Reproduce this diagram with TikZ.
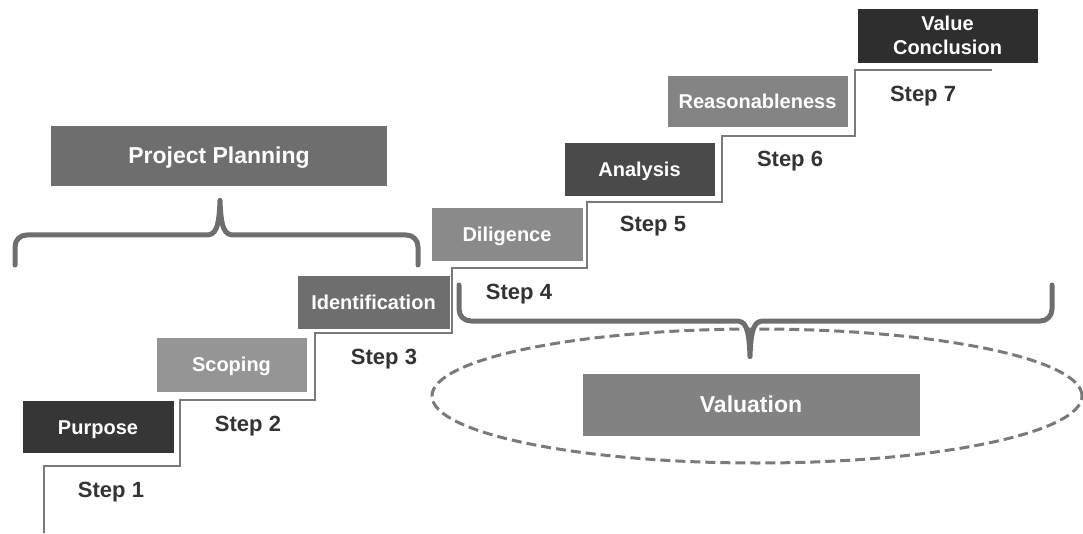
\documentclass[tikz,border=0pt]{standalone}
\usepackage{fontspec}
\setmainfont{Liberation Sans}
\usepackage{xcolor}
\usepackage{tikz}
\usetikzlibrary{calc}
\usetikzlibrary{shapes}

\definecolor{stairgray}{HTML}{7A7A7A}
\definecolor{bracegray}{HTML}{6E6E6E}
\definecolor{labelgray}{HTML}{333333}
\definecolor{darkbox}{HTML}{363636}
\definecolor{midbox}{HTML}{6E6E6E}
\definecolor{lightbox}{HTML}{959595}

\tikzset{
 boxbase/.style = {rectangle, draw=white, line width=0.8pt, text=white, inner sep=0pt,
   font=\bfseries\fontsize{20}{24}\selectfont, align=center},
 stepbox/.style = {boxbase, text height=14.4pt, text depth=0pt},
 phasebox/.style = {boxbase, fill=midbox, font=\bfseries\fontsize{23}{27}\selectfont,
   text height=16.5pt, text depth=0pt},
 steplabel/.style = {anchor=base, text=labelgray, font=\bfseries\fontsize{22}{26}\selectfont},
 bracket/.style = {draw=bracegray, line width=5pt, line cap=round, line join=round},
}

\begin{document}
\begin{tikzpicture}[x=1pt, y=-1pt]
 \useasboundingbox (0,0) rectangle (1083,534);

 % staircase
 \draw [stairgray, line width=2.5pt] (44,533) -- (44,466) -- (180,466) -- (180,400)
   -- (315,400) -- (315,333) -- (452,333) -- (452,268) -- (587,268) -- (587,202)
   -- (722,202) -- (722,136) -- (855,136) -- (855,70) -- (992,70);

 % steps
 \node [stepbox, fill=darkbox, minimum width=152pt, minimum height=53pt] (Pu) at (98,427) {Purpose};
 \node [stepbox, fill=lightbox, minimum width=151pt, minimum height=55pt] (Sc) at (231.5,364.5) {Scoping};
 \node [stepbox, fill=midbox, minimum width=153pt, minimum height=54pt] (Id) at (373.5,302) {Identification};
 \node [stepbox, fill=lightbox!110, minimum width=152pt, minimum height=54pt] (Di) at (507,234) {Diligence};
 \node [stepbox, fill=darkbox!90, minimum width=151pt, minimum height=54pt] (An) at (639.5,169) {Analysis};
 \node [stepbox, fill=midbox!85, minimum width=181pt, minimum height=52pt] (Re) at (757.5,101) {Reasonableness};
 \node [boxbase, fill=darkbox!85!black, minimum width=181pt, minimum height=55pt] (VC) at (947.5,35.5) {Value\\Conclusion};

 \node [steplabel] (S1) at (111,497) {Step 1};
 \node [steplabel] (S2) at (248,431) {Step 2};
 \node [steplabel] (S3) at (384,364) {Step 3};
 \node [steplabel] (S4) at (519,300) {Step 4};
 \node [steplabel] (S5) at (653,232) {Step 5};
 \node [steplabel] (S6) at (790,167) {Step 6};
 \node [steplabel] (S7) at (923,102) {Step 7};

 % phases
 \node [phasebox, minimum width=337pt, minimum height=61pt] (PP) at (219,155.5) {Project Planning};
 \draw [stairgray, line width=3pt, dash pattern=on 10pt off 5pt] (757,396) ellipse [x radius=325pt, y radius=67pt];
 \node [phasebox, fill=gray!98, minimum width=338pt, minimum height=63pt] (Va) at (751,404.5) {Valuation};

 \coordinate (tipPP) at ($(PP.south)+(1,14)$);
 \coordinate (tipVa) at ($(Va.north)+(-1,-16)$);
 \draw [bracket] (15,265) -- (15,247) .. controls (15,240) and (20,235) .. (27,235)
   -- (206,235) .. controls (215,235) and (219,230) .. (tipPP)
   .. controls (221,230) and (225,235) .. (234,235)
   -- (406,235) .. controls (413,235) and (418,240) .. (418,247) -- (418,265);
 \draw [bracket] (459,285) -- (459,309) .. controls (459,316) and (464,321) .. (471,321)
   -- (736,321) .. controls (745,321) and (749,326) .. (tipVa)
   .. controls (751,326) and (755,321) .. (764,321)
   -- (1040,321) .. controls (1047,321) and (1052,316) .. (1052,309) -- (1052,285);
\end{tikzpicture}
\end{document}
